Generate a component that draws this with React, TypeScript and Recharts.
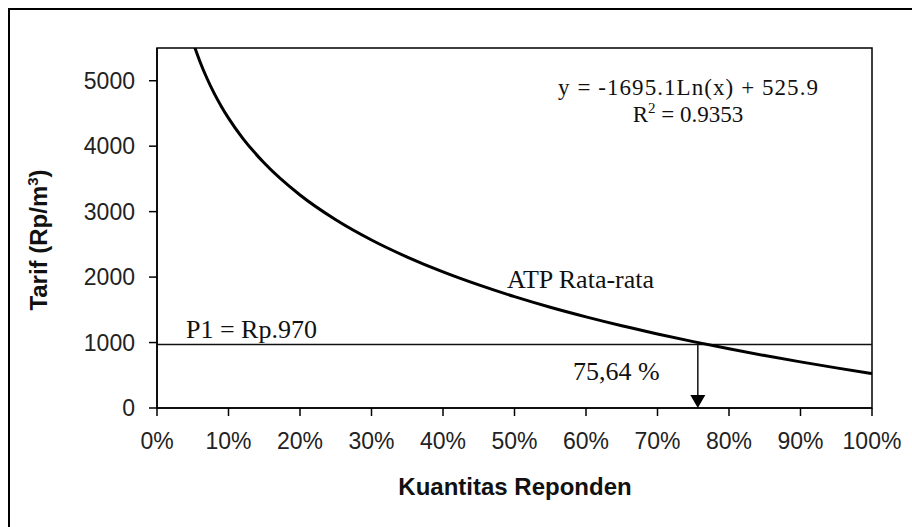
import {
  Line,
  LineChart,
  XAxis,
  YAxis,
  ReferenceLine,
  ReferenceArea,
} from "recharts";

// kuantitas reponden (%), tarif ATP rata-rata (Rp/m3)
const kuantitas = [5, 5.5, 6, 7, 8, 9, 10, 12, 15, 20, 25, 30, 35, 40, 45, 50, 55, 60, 65, 70, 75, 80, 85, 90, 95, 100];
const tarif = [5604, 5442, 5295, 5034, 4807, 4608, 4429, 4120, 3742, 3254, 2876, 2567, 2306, 2079, 1880, 1701, 1539, 1392, 1256, 1131, 1014, 904, 801, 705, 613, 526];

const xTicks = [0, 10, 20, 30, 40, 50, 60, 70, 80, 90, 100];
const yTicks = [0, 1000, 2000, 3000, 4000, 5000];

const p1 = 970;
const titikPotong = 75.64;

const data = kuantitas.map((k, i) => ({ kuantitas: k, tarif: tarif[i] }));

const serif = '"Liberation Serif", "Times New Roman", serif';
const sans = '"Liberation Sans", Arial, sans-serif';

const panah = (props: any) => {
  const { x1, y1, x2, y2 } = props;
  const top = Math.min(y1, y2);
  const bottom = Math.max(y1, y2);
  return (
    <g>
      <line x1={x1} y1={top} x2={x2} y2={bottom - 12} stroke="#111" strokeWidth={1.5} />
      <polygon
        points={`${x2 - 7.5},${bottom - 13} ${x2 + 7.5},${bottom - 13} ${x2},${bottom}`}
        fill="#000"
      />
    </g>
  );
};

export default function App() {
  return (
    <div
      style={{
        position: "absolute",
        left: 8,
        top: 8,
        width: 904,
        height: 519,
        borderTop: "2px solid #000",
        borderLeft: "2px solid #000",
        boxSizing: "border-box",
        background: "#fff",
      }}
    >
      <LineChart
        width={902}
        height={517}
        data={data}
        margin={{ top: 38, right: 40, left: 77, bottom: 22 }}
      >
        <XAxis
          type="number"
          dataKey="kuantitas"
          domain={[0, 100]}
          ticks={xTicks}
          tickFormatter={(v) => `${v}%`}
          height={97}
          tickSize={8}
          tickMargin={17}
          stroke="#000"
          axisLine={{ stroke: "#000", strokeWidth: 1.5 }}
          tickLine={{ stroke: "#000", strokeWidth: 1.5 }}
          tick={{ fill: "#222", fontSize: 23, fontFamily: sans }}
          interval={0}
        />
        <YAxis
          type="number"
          domain={[0, 5500]}
          ticks={yTicks}
          allowDataOverflow
          width={70}
          tickSize={8}
          tickMargin={14}
          stroke="#000"
          axisLine={{ stroke: "#000", strokeWidth: 1.5 }}
          tickLine={{ stroke: "#000", strokeWidth: 1.5 }}
          tick={{ fill: "#222", fontSize: 23, fontFamily: sans }}
          interval={0}
        />
        <ReferenceArea
          x1={0}
          x2={100}
          y1={0}
          y2={5500}
          fill="none"
          stroke="#000"
          strokeWidth={1.5}
          fillOpacity={0}
        />
        <ReferenceLine y={p1} stroke="#111" strokeWidth={1.5} />
        <ReferenceLine
          segment={[
            { x: titikPotong, y: p1 },
            { x: titikPotong, y: 0 },
          ]}
          shape={panah}
        />
        <Line
          type="monotone"
          dataKey="tarif"
          stroke="#000"
          strokeWidth={3}
          dot={false}
          isAnimationActive={false}
        />

        <text
          x={678}
          y={85}
          textAnchor="middle"
          fontFamily={serif}
          fontSize={23}
          fill="#111"
          textLength={260}
          lengthAdjust="spacing"
        >
          y = -1695.1Ln(x) + 525.9
        </text>
        <text x={678} y={112} textAnchor="middle" fontFamily={serif} fontSize={23} fill="#111">
          R<tspan fontSize={15} dy={-9}>2</tspan>
          <tspan dy={9}> = 0.9353</tspan>
        </text>
        <text x={497} y={278} fontFamily={serif} fontSize={26} fill="#111">
          ATP Rata-rata
        </text>
        <text x={176} y={328} fontFamily={serif} fontSize={26} fill="#111">
          P1 = Rp.970
        </text>
        <text x={563} y={370} fontFamily={serif} fontSize={26} fill="#111">
          75,64 %
        </text>

        <text
          x={505}
          y={485}
          textAnchor="middle"
          fontFamily={sans}
          fontWeight="bold"
          fontSize={24}
          fill="#111"
        >
          Kuantitas Reponden
        </text>
        <text
          x={37}
          y={230}
          textAnchor="middle"
          transform="rotate(-90, 37, 230)"
          fontFamily={sans}
          fontWeight="bold"
          fontSize={24}
          fill="#111"
        >
          Tarif (Rp/m<tspan fontSize={15} dy={-9}>3</tspan>
          <tspan dy={9}>)</tspan>
        </text>
      </LineChart>
    </div>
  );
}
